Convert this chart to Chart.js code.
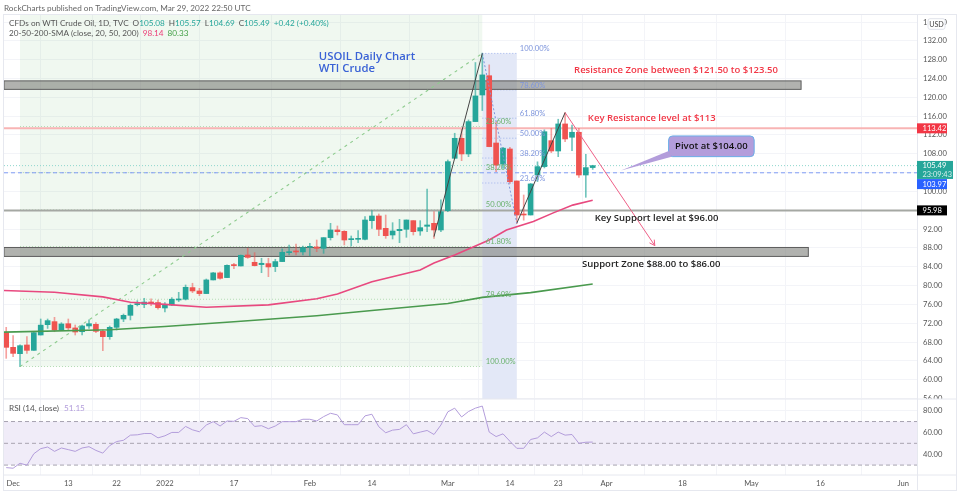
<!DOCTYPE html>
<html>
<head>
<meta charset="utf-8">
<title>USOIL Daily Chart</title>
<script src="https://cdn.jsdelivr.net/npm/chart.js@4/dist/chart.umd.min.js"></script>
<style>
  html, body { margin: 0; padding: 0; background: #fff; }
  canvas { display: block; }
</style>
</head>
<body>
<canvas id="oilChart" width="960" height="494"></canvas>
<script>
// tick labels (bar index on the time axis)
const timeTickIndex = [1, 9, 16, 23, 33, 44, 53, 64, 73, 80, 87, 98, 108, 118, 130];
const timeTickLabels = ['Dec', '13', '22', '2022', '17', 'Feb', '14', 'Mar', '14', '23', 'Apr', '18', 'May', '16', 'Jun'];
const priceTicks = [56, 60, 64, 68, 72, 76, 80, 84, 88, 92, 96, 100, 104, 108, 112, 116, 120, 124, 128, 132, 136];
const rsiTicks = [40, 60, 80];

// daily candles
const opens = [70.0, 66.88, 65.53, 67.38, 66.24, 69.5, 71.7, 72.34, 70.56, 71.9, 71.0, 70.2, 71.42, 71.77, 70.28, 69.15, 71.13, 72.9, 73.68, 75.95, 76.0, 76.5, 76.4, 75.24, 75.88, 76.94, 77.1, 79.57, 78.86, 78.3, 81.2, 82.7, 81.7, 84.46, 84.17, 86.5, 84.95, 84.46, 84.67, 84.03, 85.1, 87.0, 87.36, 87.15, 88.13, 88.2, 87.92, 90.19, 91.82, 91.53, 89.76, 89.83, 89.83, 93.8, 94.79, 92.17, 90.75, 91.67, 91.96, 93.8, 91.6, 92.6, 93.23, 91.82, 95.92, 107.05, 111.3, 107.97, 114.85, 120.5, 124.6, 110.3, 105.8, 109.03, 102.23, 95.2, 95.0, 103.5, 105.28, 110.8, 108.6, 114.35, 111.52, 112.58, 103.5, 105.08];
const highs = [71.13, 69.36, 67.4, 69.15, 70.07, 72.9, 72.9, 73.26, 72.12, 72.9, 71.63, 71.63, 72.7, 72.12, 70.6, 71.4, 73.05, 73.96, 76.1, 76.8, 77.3, 77.2, 76.94, 76.4, 77.44, 78.57, 80.13, 80.5, 79.42, 81.4, 82.8, 82.9, 84.4, 84.74, 86.5, 87.93, 87.0, 85.8, 85.8, 85.6, 87.8, 88.6, 88.8, 88.4, 88.98, 89.69, 90.19, 93.23, 92.67, 91.67, 90.54, 91.67, 94.65, 95.93, 95.22, 95.0, 93.37, 94.08, 93.94, 93.8, 93.8, 100.5, 95.71, 98.2, 106.7, 112.37, 113.2, 115.2, 127.4, 129.4, 126.9, 114.8, 109.4, 109.4, 102.23, 99.25, 101.7, 106.3, 113.1, 113.4, 115.35, 116.76, 114.1, 113.4, 107.9, 105.57];
const lows = [64.54, 64.9, 62.77, 65.6, 66.24, 69.5, 70.9, 70.2, 70.56, 70.42, 69.5, 69.5, 70.9, 70.0, 66.17, 68.58, 70.56, 72.34, 72.7, 75.67, 75.3, 75.74, 75.0, 74.4, 75.74, 76.6, 76.94, 78.5, 77.86, 78.3, 81.2, 81.34, 81.7, 83.6, 84.17, 85.8, 84.17, 82.75, 81.9, 82.97, 85.1, 86.5, 86.5, 86.5, 86.36, 87.21, 86.85, 89.69, 90.75, 88.63, 88.41, 89.12, 89.69, 92.17, 90.61, 90.04, 89.9, 89.12, 90.26, 90.75, 90.68, 91.46, 90.04, 91.46, 95.7, 107.05, 106.55, 107.4, 114.85, 117.2, 109.5, 104.2, 104.9, 101.7, 93.2, 93.9, 95.0, 102.1, 105.0, 108.25, 107.4, 110.6, 108.68, 103.0, 98.76, 104.69];
const closes = [66.88, 65.6, 67.23, 66.24, 70.0, 71.6, 72.55, 70.56, 71.84, 71.0, 70.14, 71.42, 71.9, 70.28, 69.15, 71.13, 72.9, 73.68, 75.8, 76.1, 76.5, 76.3, 75.3, 75.95, 77.1, 77.16, 79.64, 78.86, 78.3, 81.2, 82.7, 81.55, 84.3, 84.24, 86.44, 86.0, 84.24, 84.74, 83.96, 85.1, 87.08, 87.2, 87.15, 88.07, 88.27, 87.92, 90.19, 91.82, 91.46, 89.69, 89.97, 90.04, 93.94, 94.79, 91.96, 90.61, 91.6, 91.96, 93.94, 91.46, 92.31, 92.88, 91.82, 95.71, 106.34, 111.3, 107.97, 114.85, 120.3, 124.77, 109.53, 105.6, 109.2, 102.09, 95.0, 95.0, 101.6, 105.28, 112.7, 108.6, 114.35, 111.16, 112.58, 103.5, 105.07, 105.49];

// moving averages: only the vertices that were read
const sma50Index = [-1, 7, 14, 18, 23, 29, 38, 45, 48, 53, 60, 62, 65, 70, 72.5, 76.4, 79.2, 82.1, 85];
const sma50Values = [79.0, 78.6, 77.6, 76.45, 76.0, 75.4, 75.9, 77.2, 78.2, 80.8, 83.3, 84.8, 86.5, 89.7, 91.8, 93.6, 95.4, 97.1, 98.14];
const sma200Index = [-1, 15, 23, 33, 45, 53, 64, 69, 76, 85];
const sma200Values = [70.1, 70.6, 71.3, 72.3, 73.6, 74.7, 76.2, 77.5, 78.5, 80.33];

const rsiValues = [27.7, 27.1, 31.7, 29.9, 40.4, 45.1, 46.6, 42.6, 45.7, 44.2, 42.6, 45.7, 46.9, 43.5, 41.0, 47.9, 51.6, 52.8, 57.5, 57.8, 59.0, 59.0, 55.0, 56.9, 60.0, 60.0, 65.5, 62.4, 60.6, 66.8, 69.9, 65.9, 70.5, 70.2, 73.6, 72.7, 65.5, 66.2, 63.4, 65.9, 69.9, 69.9, 69.9, 72.1, 72.1, 70.5, 74.5, 77.6, 76.1, 67.1, 67.1, 67.1, 75.2, 76.7, 65.2, 59.7, 62.1, 62.8, 67.1, 58.7, 60.3, 61.8, 58.1, 66.8, 78.9, 82.3, 74.2, 79.2, 82.3, 84.2, 60.3, 56.2, 58.7, 51.9, 45.4, 45.4, 53.5, 55.0, 60.3, 56.2, 60.3, 57.5, 58.1, 50.0, 51.0, 51.15];

// price levels and zones
const resistanceZone = [121.7, 123.5];
const supportZone = [86.2, 88.1];
const resistanceLevel = 113.42;
const supportLevel = 95.98;
const pivotLevel = 103.97;
const lastPrice = 105.49;

// fibonacci drawings
const fibLabels = ['100.00%', '78.60%', '61.80%', '50.00%', '38.20%', '23.60%'];
const greenFibPrices = [62.8, 77.1, 88.3, 96.1, 104.0, 113.8];
const blueFibPrices = [129.34, 121.6, 115.57, 111.32, 107.1, 101.8];

const GREEN = '#26a69a';
const RED = '#ef5350';
const FONT = 'Lato, "Open Sans", sans-serif';
const NOTE_FONT = '"Open Sans", sans-serif';

function pairs(xs, ys) {
  return xs.map((x, n) => ({ x, y: ys[n] }));
}

function lineSet(data, color, width, yAxisID, extra) {
  return Object.assign({ type: 'line', data, borderColor: color, borderWidth: width, pointRadius: 0, tension: 0, yAxisID, order: 1 }, extra);
}

function text(ctx, str, x, y, font, color, align) {
  ctx.font = font;
  ctx.fillStyle = color;
  ctx.textAlign = align || 'left';
  ctx.textBaseline = 'middle';
  ctx.fillText(str, x, y);
}

// strings drawn one after the other
function runs(ctx, list, x, y, font) {
  ctx.font = font;
  list.forEach(([str, color, gap]) => {
    text(ctx, str, x, y, font, color);
    x += ctx.measureText(str).width + (gap || 0);
  });
}

function hLine(ctx, x1, x2, y, color, width, dash) {
  ctx.save();
  ctx.strokeStyle = color;
  ctx.lineWidth = width;
  ctx.setLineDash(dash || []);
  ctx.beginPath();
  ctx.moveTo(x1, y);
  ctx.lineTo(x2, y);
  ctx.stroke();
  ctx.restore();
}

const drawings = {
  id: 'drawings',
  beforeDatasetsDraw(chart) {
    const { ctx, scales: { x, y, yRsi } } = chart;
    const px = v => x.getPixelForValue(v);
    const py = v => y.getPixelForValue(v);

    ctx.save();
    // fibonacci backgrounds
    ctx.fillStyle = 'rgba(76,175,80,0.085)';
    ctx.fillRect(px(2), y.top, px(69) - px(2), py(greenFibPrices[0]) - y.top);
    ctx.fillStyle = '#e3e8f7';
    ctx.fillRect(px(69), py(blueFibPrices[0]), px(74) - px(69), y.bottom - py(blueFibPrices[0]));
    greenFibPrices.forEach(p => hLine(ctx, px(2), px(69), py(p), '#b5dcb5', 1, [1, 2]));
    blueFibPrices.forEach(p => hLine(ctx, px(69), px(74), py(p), '#9fb3ea', 1, [1, 2]));

    // zones
    [[resistanceZone, 115.2], [supportZone, 116.25]].forEach(([zone, end]) => {
      const top = py(zone[1]);
      const h = py(zone[0]) - top;
      ctx.fillStyle = 'rgba(125,127,122,0.6)';
      ctx.fillRect(x.left, top, px(end) - x.left, h);
      ctx.strokeStyle = '#5c5c5c';
      ctx.lineWidth = 1;
      ctx.strokeRect(x.left, top, px(end) - x.left, h);
    });

    // horizontal levels
    hLine(ctx, x.left, x.right, py(resistanceLevel), '#f8b4b4', 2);
    hLine(ctx, x.left, x.right, py(supportLevel), '#a5a8a3', 2);
    hLine(ctx, x.left, x.right, py(pivotLevel), '#7f9cf5', 1, [4, 3]);
    hLine(ctx, x.left, x.right, py(lastPrice), '#8ed6cd', 1, [1, 2]);

    // RSI band
    ctx.fillStyle = '#f0ecf8';
    ctx.fillRect(x.left, yRsi.getPixelForValue(70), x.width, yRsi.getPixelForValue(30) - yRsi.getPixelForValue(70));
    [70, 50, 30].forEach(v => hLine(ctx, x.left, x.right, yRsi.getPixelForValue(v), '#a8a4b0', 1, [4, 3]));
    ctx.restore();
  },
  afterDatasetsDraw(chart) {
    const { ctx, scales: { x, y, yRsi } } = chart;
    const px = v => x.getPixelForValue(v);
    const py = v => y.getPixelForValue(v);
    const right = x.right;

    ctx.save();
    // fibonacci labels
    fibLabels.forEach((label, n) => {
      text(ctx, label, px(69) + 3.5, py(greenFibPrices[n]) - 5, '7.6px ' + FONT, '#6db36f');
      text(ctx, label, px(74) + 3, py(blueFibPrices[n]) - 4.5, '7.6px ' + FONT, '#7f96dc');
    });

    // arrow head of the projected drop
    const tipX = px(94), tipY = py(88.5);
    const angle = Math.atan2(tipY - py(116.76), tipX - px(81));
    ctx.strokeStyle = '#ee5f86';
    ctx.lineWidth = 1;
    ctx.beginPath();
    [-0.5, 0.5].forEach(d => {
      ctx.moveTo(tipX, tipY);
      ctx.lineTo(tipX - 6 * Math.cos(angle + d), tipY - 6 * Math.sin(angle + d));
    });
    ctx.stroke();

    // notes on the chart
    const noteFont = '600 9.5px ' + NOTE_FONT;
    text(ctx, 'USOIL Daily Chart', px(45.3), py(128.6), '600 11.3px ' + NOTE_FONT, '#3a62d6');
    text(ctx, 'WTI Crude', px(45.3), py(126.05), '600 11.3px ' + NOTE_FONT, '#3a62d6');
    text(ctx, 'Resistance Zone between $121.50 to $123.50', px(82.3), py(125.83), noteFont, '#f23645');
    text(ctx, 'Key Resistance level at $113', px(84.3), py(115.5), noteFont, '#f23645');
    text(ctx, 'Key Support level at $96.00', px(85.3), py(94.4), noteFont, '#222');
    text(ctx, 'Support Zone $88.00 to $86.00', px(83.45), py(84.6), noteFont, '#222');

    // pivot callout
    const boxL = px(96), boxR = px(108.4), boxT = py(111.8), boxB = py(107.4);
    ctx.fillStyle = '#b39ddb';
    ctx.strokeStyle = '#6aaee8';
    ctx.lineWidth = 1;
    ctx.beginPath();
    ctx.roundRect(boxL, boxT, boxR - boxL, boxB - boxT, 4);
    ctx.fill();
    ctx.stroke();
    ctx.beginPath();
    ctx.moveTo(px(89.1), py(104.43));
    ctx.lineTo(boxL, py(108.6));
    ctx.lineTo(boxL + 3, boxB);
    ctx.closePath();
    ctx.fill();
    text(ctx, 'Pivot at $104.00', (boxL + boxR) / 2, (boxT + boxB) / 2, noteFont, '#111', 'center');

    // legends
    const small = '8.2px ' + FONT;
    const grey = '#555';
    const up = '#26a69a';
    runs(ctx, [['CFDs on WTI Crude Oil, 1D, TVC', grey, 4], ['O', grey], ['105.08', up, 4], ['H', grey], ['105.57', up, 4], ['L', grey], ['104.69', up, 4], ['C', grey], ['105.49', up, 4], ['+0.42 (+0.40%)', up]], 9, y.top + 8, small);
    runs(ctx, [['20-50-200-SMA (close, 20, 50, 200)', grey, 4], ['98.14', '#ec407a', 4], ['80.33', '#43a047']], 9, y.top + 18.5, small);
    runs(ctx, [['RSI (14, close)', grey, 5], ['51.15', '#b39ddb']], 9, yRsi.top + 9.5, small);
    text(ctx, 'RockCharts published on TradingView.com, Mar 29, 2022 22:50 UTC', x.left, 8, small, '#666');

    // hide the lower half of the cut tick label, then frame the panes
    ctx.fillStyle = '#fff';
    ctx.fillRect(right + 1, yRsi.top, 38, 4);
    ctx.strokeStyle = '#e6e8ef';
    ctx.lineWidth = 1;
    ctx.strokeRect(x.left - 0.5, y.top - 0.5, y.right - x.left + 1, x.bottom - y.top + 1);
    hLine(ctx, x.left, y.right, yRsi.top, '#e6e8ef', 1);
    hLine(ctx, x.left, y.right, yRsi.bottom, '#e6e8ef', 1);
    ctx.beginPath();
    ctx.moveTo(right + 0.5, y.top);
    ctx.lineTo(right + 0.5, x.bottom);
    ctx.stroke();

    // price tags
    const tag = (value, label, fill, w, offset, color) => {
      const cy = py(value) + offset;
      ctx.fillStyle = fill;
      ctx.fillRect(right, cy - 5, w, 10);
      text(ctx, label, right + 5.5, cy, '7.6px ' + FONT, color || '#fff');
    };
    tag(resistanceLevel, resistanceLevel.toFixed(2), '#f23645', 30, 0);
    tag(supportLevel, supportLevel.toFixed(2), '#000', 30, 0);
    ctx.fillStyle = GREEN;
    ctx.fillRect(right, py(lastPrice) - 4.7, 36, 18);
    text(ctx, lastPrice.toFixed(2), right + 5.5, py(lastPrice), '7.6px ' + FONT, '#fff');
    text(ctx, '23:09:43', right + 5.5, py(lastPrice) + 8.5, '7.4px ' + FONT, '#d5efec');
    tag(pivotLevel, pivotLevel.toFixed(2), '#2962ff', 30, 11.3);

    // currency button
    ctx.fillStyle = '#fff';
    ctx.strokeStyle = '#e0e3eb';
    ctx.beginPath();
    ctx.roundRect(right + 11, y.top + 3.7, 17, 10.6, 2);
    ctx.fill();
    ctx.stroke();
    text(ctx, 'USD', right + 19.5, y.top + 9.2, '7.2px ' + FONT, '#444', 'center');
    ctx.restore();
  }
};

const barIndex = closes.map((c, n) => n);
const barColors = closes.map((c, n) => (c >= opens[n] ? GREEN : RED));
const wickColors = closes.map((c, n) => (c >= opens[n] ? 'rgba(38,166,154,0.65)' : 'rgba(239,83,80,0.55)'));
const tickFont = { size: 7.6, family: FONT };

const chart = new Chart(document.getElementById('oilChart'), {
  type: 'bar',
  plugins: [drawings],
  data: {
    datasets: [
      {
        label: 'Wicks',
        data: barIndex.map(n => ({ x: n, y: [lows[n], highs[n]] })),
        backgroundColor: wickColors,
        barThickness: 1,
        grouped: false,
        yAxisID: 'y',
        order: 4
      },
      {
        label: 'Bodies',
        data: barIndex.map(n => ({ x: n, y: [opens[n], closes[n]] })),
        backgroundColor: barColors,
        barThickness: 5,
        minBarLength: 1,
        grouped: false,
        yAxisID: 'y',
        order: 3
      },
      lineSet(pairs(sma50Index, sma50Values), '#e8497f', 1.6, 'y'),
      lineSet(pairs(sma200Index, sma200Values), '#4a9a4e', 1.6, 'y'),
      lineSet(pairs(barIndex, rsiValues), '#b39ddb', 1, 'yRsi'),
      lineSet(pairs([2, 69], [greenFibPrices[0], blueFibPrices[0]]), '#8fcc8f', 1.1, 'y', { borderDash: [3, 4] }),
      lineSet(pairs([62, 69], [90.4, blueFibPrices[0]]), '#444', 1, 'y'),
      lineSet(pairs([69, 74], [blueFibPrices[0], 93.25]), '#7f96dc', 1, 'y', { borderDash: [2, 2] }),
      lineSet(pairs([74, 81], [93.25, 116.76]), '#444', 1, 'y'),
      lineSet(pairs([81, 94], [116.76, 88.5]), '#ee5f86', 1, 'y')
    ]
  },
  options: {
    responsive: false,
    animation: false,
    layout: { padding: { left: 4, top: 15, right: 4, bottom: 4 } },
    plugins: { legend: { display: false }, tooltip: { enabled: false }, title: { display: false } },
    scales: {
      x: {
        type: 'linear',
        offset: false,
        min: -0.32,
        max: 132,
        grid: { color: '#f3f4f8', drawTicks: false },
        border: { display: false },
        afterBuildTicks: axis => { axis.ticks = timeTickIndex.map(value => ({ value })); },
        afterFit: axis => { axis.height = 15; },
        ticks: {
          autoSkip: false,
          maxRotation: 0,
          padding: 4,
          color: '#555',
          font: tickFont,
          callback: value => timeTickLabels[timeTickIndex.indexOf(value)]
        }
      },
      y: {
        position: 'right',
        stack: 'panes',
        stackWeight: 384,
        min: 55.9,
        max: 137.5,
        grid: { color: '#f3f4f8', drawTicks: false },
        border: { display: false },
        afterBuildTicks: axis => { axis.ticks = priceTicks.map(value => ({ value })); },
        afterFit: axis => { axis.width = 39; },
        ticks: { autoSkip: false, padding: 6, color: '#555', font: tickFont, callback: v => v.toFixed(2) }
      },
      yRsi: {
        position: 'right',
        stack: 'panes',
        stackWeight: 76,
        min: 20.9,
        max: 90.7,
        grid: { color: '#f3f4f8', drawTicks: false },
        border: { display: false },
        afterBuildTicks: axis => { axis.ticks = rsiTicks.map(value => ({ value })); },
        afterFit: axis => { axis.width = 39; },
        ticks: { autoSkip: false, padding: 6, color: '#555', font: tickFont, callback: v => v.toFixed(2) }
      }
    }
  }
});
</script>
</body>
</html>
